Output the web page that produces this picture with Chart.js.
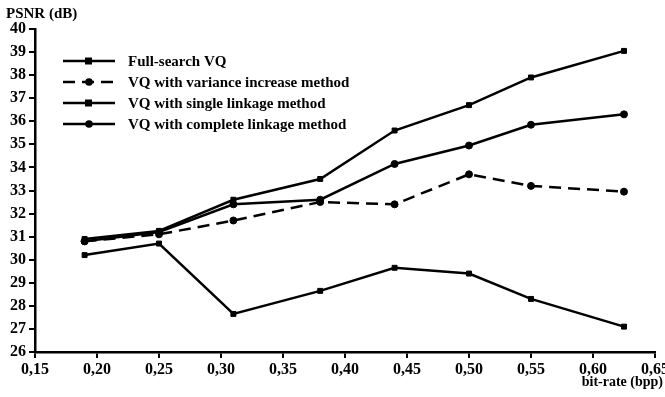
<!DOCTYPE html>
<html>
<head>
<meta charset="utf-8">
<script src="https://cdn.jsdelivr.net/npm/chart.js@4.4.0/dist/chart.umd.min.js"></script>
<style>
  html, body { margin: 0; padding: 0; background: #fff; }
  #wrap { width: 665px; height: 397px; position: relative; }
</style>
</head>
<body>
<div id="wrap"><canvas id="psnrChart"></canvas></div>
<script>
const bitRates = [0.19, 0.25, 0.31, 0.38, 0.44, 0.50, 0.55, 0.625];
const fullSearch = [30.9, 31.25, 32.6, 33.5, 35.6, 36.7, 37.9, 39.05];
const varianceIncrease = [30.8, 31.1, 31.7, 32.5, 32.4, 33.7, 33.2, 32.95];
const singleLinkage = [30.2, 30.7, 27.65, 28.65, 29.65, 29.4, 28.3, 27.1];
const completeLinkage = [30.8, 31.2, 32.4, 32.6, 34.15, 34.95, 35.85, 36.3];
const seriesNames = ['Full-search VQ', 'VQ with variance increase method',
  'VQ with single linkage method', 'VQ with complete linkage method'];
const xTicks = [0.15, 0.20, 0.25, 0.30, 0.35, 0.40, 0.45, 0.50, 0.55, 0.60, 0.65];
const yMin = 26, yMax = 40;

const serif = '"Liberation Serif", "Times New Roman", serif';

function pts(values) {
  return values.map((v, i) => ({ x: bitRates[i], y: v }));
}

function makeSet(label, values, style, dashed) {
  return {
    label: label,
    data: pts(values),
    borderColor: '#000',
    backgroundColor: '#000',
    borderWidth: 2.5,
    borderDash: dashed ? [12, 7] : [],
    pointStyle: style,
    pointRadius: 3.5,
    pointBorderWidth: 1,
    tension: 0
  };
}

// legend + axis captions drawn straight onto the canvas
const captions = {
  id: 'captions',
  afterDraw(chart) {
    const c = chart.ctx;
    c.save();
    c.fillStyle = '#000';
    c.font = 'bold 15px ' + serif;
    c.textBaseline = 'middle';
    c.textAlign = 'left';
    c.fillText('PSNR (dB)', 6, 14);
    c.textAlign = 'right';
    c.font = 'bold 14px ' + serif;
    c.fillText('bit-rate (bpp)', 663, 382);

    chart.data.datasets.forEach((ds, i) => {
      const y = 61 + i * 21;
      c.strokeStyle = '#000';
      c.lineWidth = 2.5;
      c.setLineDash(ds.borderDash);
      c.beginPath();
      c.moveTo(63, y);
      c.lineTo(115, y);
      c.stroke();
      c.setLineDash([]);
      c.beginPath();
      if (ds.pointStyle === 'rect') {
        c.rect(85, y - 3.5, 7, 7);
      } else {
        c.arc(89, y, 3.8, 0, Math.PI * 2);
      }
      c.fill();
      c.textAlign = 'left';
      c.font = 'bold 15px ' + serif;
      c.fillText(ds.label, 128, y + 1);
    });
    c.restore();
  }
};

const ctx = document.getElementById('psnrChart');
new Chart(ctx, {
  type: 'line',
  data: {
    datasets: [
      makeSet(seriesNames[0], fullSearch, 'rect', false),
      makeSet(seriesNames[1], varianceIncrease, 'circle', true),
      makeSet(seriesNames[2], singleLinkage, 'rect', false),
      makeSet(seriesNames[3], completeLinkage, 'circle', false)
    ]
  },
  options: {
    responsive: true,
    maintainAspectRatio: false,
    animation: false,
    layout: { padding: { top: 29, right: 10, left: 0, bottom: 0 } },
    plugins: { legend: { display: false }, tooltip: { enabled: false } },
    scales: {
      x: {
        type: 'linear',
        min: 0.15,
        max: 0.65,
        afterBuildTicks: s => { s.ticks = xTicks.map(v => ({ value: v })); },
        afterFit: s => { s.height = 45; s.paddingLeft = 0; s.paddingRight = 0; },
        grid: { drawOnChartArea: false, drawTicks: true, tickLength: 6, color: '#000', lineWidth: 2 },
        border: { display: true, color: '#000', width: 2.5 },
        ticks: {
          color: '#000',
          padding: 2,
          maxRotation: 0,
          autoSkip: false,
          font: { family: serif, size: 16, weight: 'bold' },
          callback: v => v.toFixed(2).replace('.', ',')
        }
      },
      y: {
        min: yMin,
        max: yMax,
        afterFit: s => { s.width = 35; },
        grid: { drawOnChartArea: false, drawTicks: true, tickLength: 6, color: '#000', lineWidth: 2 },
        border: { display: true, color: '#000', width: 2.5 },
        ticks: {
          stepSize: 1,
          color: '#000',
          padding: 3,
          font: { family: serif, size: 16, weight: 'bold' }
        }
      }
    }
  },
  plugins: [captions]
});
</script>
</body>
</html>
